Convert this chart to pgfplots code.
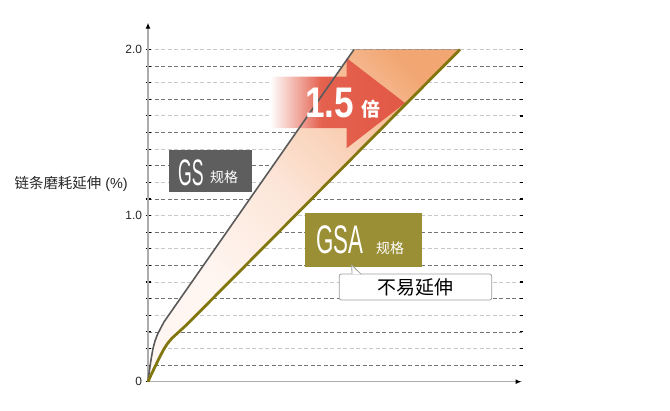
\documentclass[border=0pt]{standalone}
\usepackage{pgfplots}
\pgfplotsset{compat=1.18}
\usepgfplotslibrary{fillbetween}
\usetikzlibrary{arrows.meta}
\usepackage{graphicx}
\usepackage{fontspec}
\setmainfont{Liberation Sans}
\newfontfamily\cjk{Noto Sans CJK SC}

\definecolor{gsline}{RGB}{90,90,90}
\definecolor{gsaline}{RGB}{130,118,15}
\definecolor{gsbox}{RGB}{94,94,94}
\definecolor{gsabox}{RGB}{155,143,53}
\definecolor{arrowred}{RGB}{228,97,78}
\definecolor{arrowred2}{RGB}{226,88,70}
\definecolor{areatop}{RGB}{242,166,114}
\definecolor{areaupper}{RGB}{249,206,178}
\definecolor{areamid}{RGB}{252,230,217}
\definecolor{areabot}{RGB}{255,246,241}
\definecolor{griddark}{RGB}{115,115,115}
\definecolor{gridlight}{RGB}{200,200,200}

\pgfdeclarehorizontalshading{arrowfade}{100bp}{color(0bp)=(white); color(25bp)=(white); color(44bp)=(arrowred); color(75bp)=(arrowred2); color(100bp)=(arrowred2)}
\pgfdeclareverticalshading{areafade}{100bp}{color(0bp)=(areabot); color(33bp)=(areabot); color(50bp)=(areamid); color(64bp)=(areaupper); color(78bp)=(areatop); color(100bp)=(areatop)}

\begin{document}
\begin{tikzpicture}
\begin{axis}[
    at={(148bp,29.3bp)}, anchor=south west,
    width=373.5bp, height=359bp, scale only axis,
    xmin=0, xmax=373.5, ymin=0, ymax=2.1614,
    axis lines=left,
    x axis line style={draw=gray!65, line width=1.3bp, -{Latex[length=6bp,width=5bp,color=black]}},
    y axis line style={draw=gray!65, line width=1.3bp, -{Latex[length=6bp,width=5bp,color=black]}},
    xtick=\empty,
    ytick={0,0.2,0.4,0.6,0.8,1.0,1.2,1.4,1.6,1.8,2.0},
    yticklabels={0,,,,,1.0,,,,,2.0},
    extra y ticks={0.1,0.3,0.5,0.7,0.9,1.1,1.3,1.5,1.7,1.9},
    extra y tick labels={},
    extra y tick style={ymajorgrids=true, major grid style={draw=griddark, line width=0.7bp, dash pattern=on 4bp off 2.5bp}},
    ymajorgrids=true,
    major grid style={draw=gridlight, line width=0.9bp, dash pattern=on 4bp off 2.5bp},
    tick align=center, major tick length=5bp,
    tick style={draw=black, line width=1.1bp},
    yticklabel style={font=\fontsize{12}{12}\selectfont, text=black!85},
    clip=false,
]
% wear elongation curves
\addplot[name path=gs, draw=none, forget plot] coordinates {
    (0,0) (1,0.05) (2.2,0.10) (3.5,0.15) (5,0.20) (7,0.245) (9.5,0.285) (12.5,0.32) (16,0.36) (206,2.0)
};
\addplot[name path=gsa, draw=none, forget plot] coordinates {
    (0,0) (3,0.04) (7,0.09) (11,0.14) (15.3,0.19) (19.5,0.23) (24,0.262) (30,0.295) (38.7,0.343) (312,2.0)
};
\addplot[shading=areafade, shading angle=-45, draw=none] fill between[of=gs and gsa];

% 1.5x arrow
\path[shading=arrowfade] (axis cs:122,1.527) -- (axis cs:198.7,1.527) -- (axis cs:198.7,1.406)
    -- (axis cs:257,1.678) -- (axis cs:198.7,1.948) -- (axis cs:198.7,1.836) -- (axis cs:122,1.836) -- cycle;

\addplot[draw=gsline, line width=1.6bp, line join=round] coordinates {
    (0,0) (1,0.05) (2.2,0.10) (3.5,0.15) (5,0.20) (7,0.245) (9.5,0.285) (12.5,0.32) (16,0.36) (206,2.0)
};
\addplot[draw=gsaline, line width=2.8bp, line join=round] coordinates {
    (0,0) (3,0.04) (7,0.09) (11,0.14) (15.3,0.19) (19.5,0.23) (24,0.262) (30,0.295) (38.7,0.343) (312,2.0)
};

\node[anchor=base west, inner sep=0pt, text=white] at (axis cs:157,1.588)
    {\scalebox{0.82}[1]{\fontsize{43}{43}\selectfont\bfseries 1.5}};
\node[anchor=base west, inner sep=0pt, text=white] at (axis cs:213,1.595)
    {\fontsize{19}{19}\selectfont\cjk\bfseries 倍};

% right-end tick marks
\pgfplotsinvokeforeach{0.1,0.2,...,2.0}{
    \draw[black, line width=1.1bp] (axis cs:371.5,#1) -- (axis cs:374.5,#1);
}

% GS label
\fill[gsbox] (axis cs:21,1.144) rectangle (axis cs:103.7,1.395);
\node[anchor=base west, inner sep=0pt, text=white] at (axis cs:30,1.184)
    {\scalebox{0.48}[1]{\fontsize{37}{37}\selectfont GS}};
\node[anchor=base west, inner sep=0pt, text=white] at (axis cs:62,1.20)
    {\fontsize{14}{14}\selectfont\cjk 规格};

% GSA label
\fill[gsabox] (axis cs:157,0.692) rectangle (axis cs:273.7,1.017);
\node[anchor=base west, inner sep=0pt, text=white] at (axis cs:168,0.769)
    {\scalebox{0.56}[1]{\fontsize{40}{40}\selectfont GSA}};
\node[anchor=base west, inner sep=0pt, text=white] at (axis cs:228,0.773)
    {\fontsize{14}{14}\selectfont\cjk 规格};

% callout
\draw[fill=white, draw=gray!75, line width=0.8bp, rounded corners=2bp]
    (axis cs:191.3,0.492) rectangle (axis cs:343.7,0.648);
\fill[white] (axis cs:204,0.648) -- (axis cs:203.7,0.702) -- (axis cs:213,0.648) -- cycle;
\draw[draw=gray!75, line width=0.8bp] (axis cs:204,0.648) -- (axis cs:203.7,0.702) -- (axis cs:213,0.648);
\node[inner sep=0pt, text=black] at (axis cs:267.5,0.57)
    {\fontsize{19}{19}\selectfont\cjk 不易延伸};

% y label
\node[anchor=east, inner sep=0pt, text=black!85] at (axis cs:-20,1.19)
    {\fontsize{14.5}{14.5}\selectfont{\cjk 链条磨耗延伸} (\%)};
\end{axis}
\path (0,0) rectangle (670bp,411bp);
\end{tikzpicture}
\end{document}
